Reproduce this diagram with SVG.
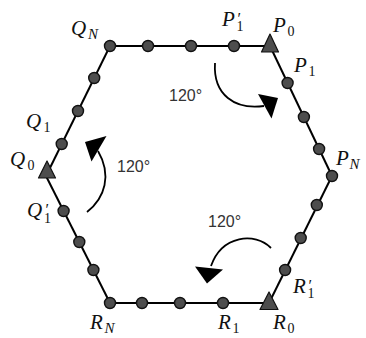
<svg xmlns="http://www.w3.org/2000/svg" width="366" height="338" viewBox="0 0 366 338">
<style>
.edge{stroke:#000;stroke-width:2;fill:none}
.dot{fill:#4d4d4d;stroke:#111;stroke-width:1.4}
.tri{fill:#4d4d4d;stroke:#111;stroke-width:1.2;stroke-linejoin:round}
.lbl{font-family:"Liberation Serif","DejaVu Serif",serif;font-style:italic;font-size:21px;fill:#111}
.sub{font-style:normal;font-size:14px}
.subi{font-style:italic;font-size:15px}
.pr{font-style:normal;font-size:16px}
.ang{font-family:"Liberation Sans","DejaVu Sans",sans-serif;font-size:16px;fill:#333}
.arc{stroke:#000;stroke-width:1.8;fill:none}
.head{fill:#000}
</style>
<rect width="366" height="338" fill="#fff"/>
<g id="connectors">
<line class="edge" x1="110" y1="46" x2="270" y2="46"/>
<line class="edge" x1="270" y1="46" x2="332" y2="176"/>
<line class="edge" x1="332" y1="176" x2="269" y2="303"/>
<line class="edge" x1="269" y1="303" x2="110" y2="303"/>
<line class="edge" x1="110" y1="303" x2="46" y2="176"/>
<line class="edge" x1="46" y1="176" x2="110" y2="46"/>
</g>
<g id="rotations">
<path class="arc" d="M215,63 C213,95 235,110 264,106"/>
<polygon class="head" points="258,94 278,98 271.5,118.5"/>
<text class="ang" x="169" y="101">120°</text>
<path class="arc" d="M87,212 C105,198 112,175 98,151"/>
<polygon class="head" points="85,142 106.5,136 91.5,161.5"/>
<text class="ang" x="117" y="172">120°</text>
<path class="arc" d="M271,248 C255,232 222,235 211,266"/>
<polygon class="head" points="195,266.5 223,269.5 207,283.5"/>
<text class="ang" x="208" y="227">120°</text>
</g>
<g id="QN"><circle class="dot" cx="110" cy="46" r="5.5"/><text class="lbl" x="71" y="35">Q<tspan class="subi" x="88" y="39">N</tspan></text></g>
<g id="top2"><circle class="dot" cx="148" cy="46" r="5.5"/></g>
<g id="top3"><circle class="dot" cx="191" cy="46" r="5.5"/></g>
<g id="P1p"><circle class="dot" cx="234" cy="46" r="5.5"/><text class="lbl" x="222" y="26">P<tspan class="sub" x="236.5" y="31">1</tspan></text><text class="lbl pr" x="237.5" y="24">′</text></g>
<g id="P0"><polygon class="tri" points="270,34 261.5,52 278.5,52"/><text class="lbl" x="273" y="32">P<tspan class="sub" x="287.5" y="36">0</tspan></text></g>
<g id="P1"><circle class="dot" cx="287.6" cy="83" r="5.5"/><text class="lbl" x="294" y="72">P<tspan class="sub" x="308.5" y="76">1</tspan></text></g>
<g id="pu2"><circle class="dot" cx="303.9" cy="117" r="5.5"/></g>
<g id="pu3"><circle class="dot" cx="319.1" cy="149" r="5.5"/></g>
<g id="PN"><circle class="dot" cx="332" cy="176" r="5.5"/><text class="lbl" x="336" y="165">P<tspan class="subi" x="349.5" y="169">N</tspan></text></g>
<g id="pl1"><circle class="dot" cx="316.8" cy="205" r="5.5"/></g>
<g id="pl2"><circle class="dot" cx="300.7" cy="238" r="5.5"/></g>
<g id="R1p"><circle class="dot" cx="285.1" cy="270" r="5.5"/><text class="lbl" x="293" y="293">R<tspan class="sub" x="307.5" y="298">1</tspan></text><text class="lbl pr" x="308.5" y="291">′</text></g>
<g id="R0"><polygon class="tri" points="269,292 260,309.5 278,309.5"/><text class="lbl" x="273" y="329">R<tspan class="sub" x="287.5" y="333">0</tspan></text></g>
<g id="R1"><circle class="dot" cx="223" cy="303" r="5.5"/><text class="lbl" x="218" y="329">R<tspan class="sub" x="232.5" y="333">1</tspan></text></g>
<g id="bot3"><circle class="dot" cx="180" cy="303" r="5.5"/></g>
<g id="bot2"><circle class="dot" cx="142" cy="303" r="5.5"/></g>
<g id="RN"><circle class="dot" cx="110" cy="303" r="5.5"/><text class="lbl" x="90" y="329">R<tspan class="subi" x="104.5" y="333">N</tspan></text></g>
<g id="ql3"><circle class="dot" cx="93.4" cy="270" r="5.5"/></g>
<g id="ql2"><circle class="dot" cx="79.3" cy="242" r="5.5"/></g>
<g id="Q1p"><circle class="dot" cx="63.6" cy="211" r="5.5"/><text class="lbl" x="27" y="217">Q<tspan class="sub" x="44" y="223">1</tspan></text><text class="lbl pr" x="45.5" y="215">′</text></g>
<g id="Q0"><polygon class="tri" points="47,161 38.5,178 55.5,178"/><text class="lbl" x="10" y="166">Q<tspan class="sub" x="27.5" y="170">0</tspan></text></g>
<g id="Q1"><circle class="dot" cx="61.7" cy="144" r="5.5"/><text class="lbl" x="26" y="128">Q<tspan class="sub" x="43.5" y="132">1</tspan></text></g>
<g id="qu2"><circle class="dot" cx="78" cy="111" r="5.5"/></g>
<g id="qu3"><circle class="dot" cx="94.2" cy="78" r="5.5"/></g>
</svg>
